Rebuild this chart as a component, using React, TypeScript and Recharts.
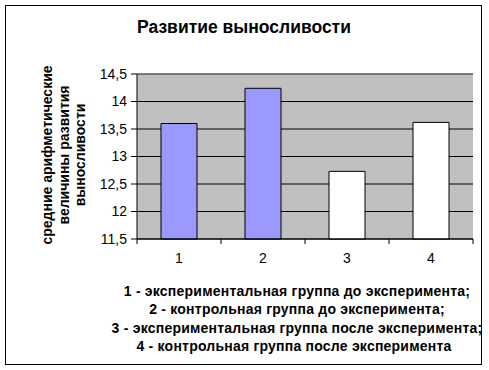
import React from 'react';
import { BarChart, Bar, XAxis, YAxis, CartesianGrid, Cell, ReferenceLine, Customized } from 'recharts';

const categories = ['1', '2', '3', '4'];
const values = [13.6, 14.24, 12.73, 13.62];
const yTicks = [11.5, 12, 12.5, 13, 13.5, 14, 14.5];
const titleText = 'Развитие выносливости';
const yLabelLines = ['средние арифметические', 'величины развития', 'выносливости'];
const legendLines = [
  '1 - экспериментальная группа до эксперимента;',
  '2 - контрольная группа до эксперимента;',
  '3 - экспериментальная группа после эксперимента;',
  '4 - контрольная группа после эксперимента',
];

const barFills = ['#9999FF', '#9999FF', '#FFFFFF', '#FFFFFF'];
const FONT = '"Liberation Sans", Arial, sans-serif';

const data = categories.map((c, i) => ({ name: c, value: values[i] }));

const XTick = (props: any) => {
  const { x, y, payload, index, width, visibleTicksCount } = props;
  const band = Number(width) / Number(visibleTicksCount);
  const half = isFinite(band) ? band / 2 : 0;
  return (
    <g>
      {half > 0 && <line x1={x - half} y1={y} x2={x - half} y2={y + 5} stroke="#000" />}
      {half > 0 && index === visibleTicksCount - 1 && (
        <line x1={x + half} y1={y} x2={x + half} y2={y + 5} stroke="#000" />
      )}
      <text x={x} y={y + 24} textAnchor="middle" fontSize={14} fontFamily={FONT} fill="#000">
        {payload.value}
      </text>
    </g>
  );
};

const Texts = () => (
  <g fontFamily={FONT} fill="#000">
    <text x={244} y={33} textAnchor="middle" fontSize={17.5} fontWeight="bold">{titleText}</text>
    {yLabelLines.map((l, i) => (
      <text key={i} x={0} y={0} transform={`translate(${52 + i * 16.5},155) rotate(-90)`} textAnchor="middle" fontSize={14} fontWeight="bold">{l}</text>
    ))}
    {legendLines.map((l, i) => (
      <text key={i} x={i === legendLines.length - 1 ? 294 : 297} y={296 + i * 18.3} textAnchor="middle" fontSize={14} fontWeight="bold" letterSpacing={0.22}>{l}</text>
    ))}
  </g>
);

export default function App() {
  return (
    <div style={{ position: 'absolute', left: 0, top: 0, width: 489, height: 370, background: '#fff' }}>
      <div style={{ position: 'absolute', left: 5, top: 5, width: 477, height: 360, boxSizing: 'border-box', border: '1px solid #000' }} />
      <div style={{ position: 'absolute', left: 0, top: 0 }}>
        <BarChart width={489} height={370} data={data} margin={{ top: 74, right: 16, left: 97, bottom: 101 }}>
          <CartesianGrid vertical={false} fill="#C0C0C0" stroke="#000" strokeOpacity={1} />
          <XAxis dataKey="name" height={30} axisLine={{ stroke: '#000' }} tickLine={false} tickSize={0} tickMargin={0} tick={<XTick />} interval={0} />
          <YAxis yAxisId={0} width={40} domain={[11.5, 14.5]} ticks={yTicks} interval={0} axisLine={{ stroke: '#000' }} tickLine={{ stroke: '#000' }} tickSize={6} tickMargin={4}
            tickFormatter={(v: number) => String(v).replace('.', ',')}
            tick={{ fill: '#000', fontSize: 14, fontFamily: FONT }} />
          <YAxis yAxisId="r" orientation="right" width={0} domain={[11.5, 14.5]} tick={false} tickLine={false} axisLine={{ stroke: '#808080' }} />
          <ReferenceLine yAxisId={0} y={14.5} stroke="#808080" />
          <Bar dataKey="value" barSize={36} stroke="#000" strokeWidth={1} isAnimationActive={false}>
            {data.map((d, i) => (
              <Cell key={d.name} fill={barFills[i]} />
            ))}
          </Bar>
          <Customized component={Texts} />
        </BarChart>
      </div>
    </div>
  );
}
